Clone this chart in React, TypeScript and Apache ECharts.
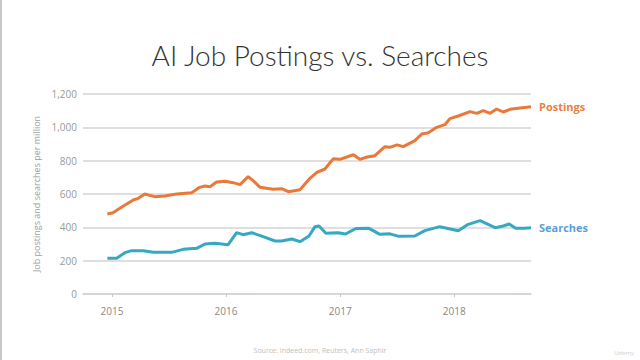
import React, { useEffect, useRef } from "react";
import * as echarts from "echarts";

const postingDates = [
  "2014-12-17", "2015-01-04", "2015-01-26", "2015-02-17", "2015-03-10", "2015-03-26",
  "2015-04-16", "2015-05-02", "2015-05-18", "2015-06-19", "2015-07-27", "2015-09-13",
  "2015-10-09", "2015-10-26", "2015-11-11", "2015-12-02", "2015-12-29", "2016-01-24",
  "2016-02-15", "2016-03-12", "2016-03-28", "2016-04-19", "2016-05-31", "2016-06-27",
  "2016-07-19", "2016-08-25", "2016-09-26", "2016-10-18", "2016-11-13", "2016-12-10",
  "2016-12-31", "2017-01-22", "2017-02-12", "2017-03-05", "2017-03-28", "2017-04-22",
  "2017-05-24", "2017-06-09", "2017-07-02", "2017-07-22", "2017-08-28", "2017-09-19",
  "2017-10-10", "2017-11-06", "2017-12-02", "2017-12-18", "2018-01-14", "2018-02-21",
  "2018-03-14", "2018-04-04", "2018-04-26", "2018-05-17", "2018-06-07", "2018-06-29",
  "2018-07-31", "2018-08-21", "2018-09-04",
];
const postingValues = [
  480, 488, 514, 540, 564, 574,
  600, 592, 584, 588, 600, 608,
  640, 648, 644, 672, 676, 668,
  656, 704, 680, 640, 628, 632,
  614, 626, 694, 730, 750, 812,
  808, 822, 836, 808, 822, 830,
  884, 880, 895, 884, 920, 960,
  968, 1000, 1016, 1052, 1068, 1094,
  1084, 1100, 1084, 1110, 1092, 1108,
  1116, 1120, 1124,
];

const searchDates = [
  "2014-12-17", "2015-01-16", "2015-02-11", "2015-03-05", "2015-04-11", "2015-05-13",
  "2015-07-11", "2015-08-17", "2015-09-29", "2015-10-26", "2015-11-27", "2016-01-08",
  "2016-02-04", "2016-02-25", "2016-03-23", "2016-04-29", "2016-06-06", "2016-06-27",
  "2016-07-30", "2016-08-25", "2016-09-23", "2016-10-12", "2016-10-25", "2016-11-16",
  "2016-12-25", "2017-01-18", "2017-02-20", "2017-04-03", "2017-05-08", "2017-06-09",
  "2017-07-08", "2017-08-28", "2017-09-29", "2017-11-16", "2018-01-14", "2018-02-15",
  "2018-03-25", "2018-05-12", "2018-06-07", "2018-06-26", "2018-07-17", "2018-08-13",
  "2018-09-04",
];
const searchValues = [
  214, 214, 248, 260, 260, 250,
  250, 268, 274, 300, 304, 296,
  368, 356, 368, 344, 318, 318,
  330, 314, 348, 404, 408, 364,
  368, 360, 393, 394, 358, 361,
  346, 348, 380, 404, 380, 418,
  440, 398, 408, 420, 394, 394,
  398,
];

const yearTicks = ["2015-01-01", "2016-01-01", "2017-01-01", "2018-01-01"];
const axisStart = "2014-09-30";
const axisEnd = "2018-09-04";

const titleText = "AI Job Postings vs. Searches";
const yAxisName = "Job postings and searches per million";
const sourceText = "Source: Indeed.com, Reuters, Ann Saphir";

const toTime = (d: string) => new Date(d + "T00:00:00Z").getTime();

export default function App() {
  const ref = useRef<HTMLDivElement>(null);

  useEffect(() => {
    if (!ref.current) return;
    const chart = echarts.init(ref.current, undefined, { renderer: "svg" });
    const tickTimes = yearTicks.map(toTime);
    const font = "'Open Sans', 'Noto Sans', sans-serif";
    chart.setOption({
      animation: false,
      backgroundColor: "#ffffff",
      textStyle: { fontFamily: font },
      title: {
        text: titleText,
        left: "center",
        top: 36,
        textStyle: {
          fontFamily: "Lato, 'Open Sans', sans-serif",
          fontWeight: 300,
          fontSize: 28,
          color: "#333333",
        },
      },
      graphic: [
        {
          type: "rect",
          left: 0,
          top: 0,
          shape: { width: 2, height: 360 },
          style: { fill: "#c8c8c8" },
        },
        {
          type: "text",
          left: "center",
          top: 347,
          style: { text: sourceText, fontSize: 7, fill: "#c0c0c0", fontFamily: font },
        },
        {
          type: "text",
          left: 614,
          top: 350,
          style: { text: "Udemy", fontSize: 6, fill: "#d0d0d0", fontFamily: font },
        },
      ],
      grid: { left: 83, right: 109, top: 94, bottom: 66, containLabel: false },
      xAxis: {
        type: "value",
        min: toTime(axisStart),
        max: toTime(axisEnd),
        splitLine: { show: false },
        axisLine: { show: true, lineStyle: { color: "#d4d4d4", width: 1.5 } },
        axisTick: {
          show: true,
          customValues: tickTimes,
          length: 3,
          lineStyle: { color: "#c8c8c8" },
        },
        axisLabel: {
          customValues: tickTimes,
          formatter: (v: number) => String(new Date(v).getUTCFullYear()),
          color: "#888888",
          fontSize: 10,
          margin: 12,
          fontFamily: font,
        },
      },
      yAxis: {
        type: "value",
        min: 0,
        max: 1200,
        interval: 200,
        name: yAxisName,
        nameLocation: "middle",
        nameGap: 42,
        nameTextStyle: { color: "#a0a0a0", fontSize: 9, fontFamily: font },
        axisLine: { show: false },
        axisTick: { show: false },
        axisLabel: {
          color: "#999999",
          fontSize: 10,
          margin: 6,
          fontFamily: font,
          formatter: (v: number) => v.toLocaleString("en-US"),
        },
        splitLine: { lineStyle: { color: "#d4d4d4", width: 1.5 } },
      },
      series: [
        {
          name: "Postings",
          type: "line",
          showSymbol: false,
          smooth: false,
          data: postingDates.map((d, i) => [toTime(d), postingValues[i]]),
          lineStyle: { color: "#e8793a", width: 3 },
          itemStyle: { color: "#e8793a" },
          endLabel: {
            show: true,
            formatter: "{a}",
            color: "#e8803f",
            fontWeight: "bold",
            fontSize: 11,
            distance: 8,
            fontFamily: font,
          },
        },
        {
          name: "Searches",
          type: "line",
          showSymbol: false,
          smooth: false,
          data: searchDates.map((d, i) => [toTime(d), searchValues[i]]),
          lineStyle: { color: "#35a8c2", width: 3 },
          itemStyle: { color: "#35a8c2" },
          endLabel: {
            show: true,
            formatter: "{a}",
            color: "#5b9fd6",
            fontWeight: "bold",
            fontSize: 11,
            distance: 8,
            fontFamily: font,
          },
        },
      ],
    });
    return () => chart.dispose();
  }, []);

  return (
    <div
      ref={ref}
      style={{ position: "fixed", left: 0, top: 0, width: 640, height: 360 }}
    />
  );
}
